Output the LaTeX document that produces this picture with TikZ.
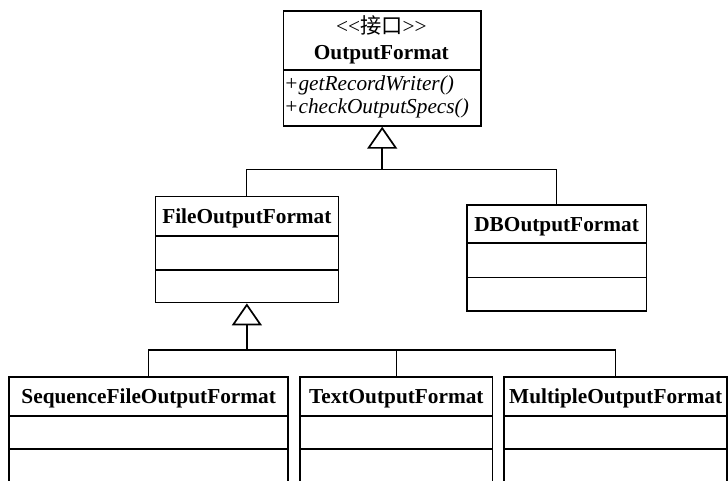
\documentclass[tikz,border=0pt]{standalone}
\usepackage{fontspec}
\setmainfont{Liberation Serif}
\newfontfamily\cjkfont{Noto Sans CJK SC}
\usetikzlibrary{arrows.meta}
\newcommand\umlsize{\fontsize{21.3pt}{25pt}\selectfont}
\tikzset{
  comp/.style={draw, line width=1.7pt, rectangle, inner sep=0pt, anchor=north west, minimum width=#1},
  title/.style={comp=#1, font=\umlsize\bfseries, text height=14.1pt, text depth=0pt},
  txt/.style={inner sep=0pt, font=\umlsize},
  link/.style={line width=1.1pt},
  stem/.style={line width=1.8pt, -{Triangle[open, length=22pt, width=30pt, line width=1.7pt]}}
}
\begin{document}
\begin{tikzpicture}[x=1pt,y=-1pt]
\useasboundingbox (0,0) rectangle (728,480);
\clip (0,0) rectangle (728,480);
% OutputFormat
\node[comp=197.3pt, minimum height=59pt] (ofT) at (282.7,10) {};
\node[comp=197.3pt, minimum height=56pt] (ofM) at (282.7,69) {};
\node[txt, anchor=base] (ofS) at (381.35,33) {<\kern0pt<{\cjkfont 接口}>\kern0pt>};
\node[txt, font=\umlsize\bfseries, anchor=base] (ofN) at (381.35,59) {OutputFormat};
\node[txt, font=\umlsize\itshape, anchor=base west] (op1) at (284,90) {+getRecordWriter()};
\node[txt, font=\umlsize\itshape, anchor=base west] (op2) at (284,113.3) {+checkOutputSpecs()};
% FileOutputFormat
\node[title=183pt, minimum height=39.3pt] (fofT) at (154.5,195.7) {FileOutputFormat};
\node[comp=183pt, minimum height=34pt] (fofA) at (154.5,235) {};
\node[comp=183pt, minimum height=32.7pt] (fofM) at (154.5,269) {};
% DBOutputFormat
\node[title=179.5pt, minimum height=38.3pt] (dbT) at (466,204) {DBOutputFormat};
\node[comp=179.5pt, minimum height=34.4pt] (dbA) at (466,242.3) {};
\node[comp=179.5pt, minimum height=33.3pt] (dbM) at (466,276.7) {};
% SequenceFileOutputFormat
\node[title=279pt, minimum height=39pt] (seqT) at (8.3,376) {SequenceFileOutputFormat};
\node[comp=279pt, minimum height=33.3pt] (seqA) at (8.3,415) {};
\node[comp=279pt, minimum height=50pt] (seqM) at (8.3,448.3) {};
% TextOutputFormat
\node[title=192.4pt, minimum height=39pt] (txtT) at (299.3,376) {TextOutputFormat};
\node[comp=192.4pt, minimum height=33.3pt] (txtA) at (299.3,415) {};
\node[comp=192.4pt, minimum height=50pt] (txtM) at (299.3,448.3) {};
% MultipleOutputFormat
\node[title=223pt, minimum height=39pt] (mulT) at (503.3,376) {MultipleOutputFormat};
\node[comp=223pt, minimum height=33.3pt] (mulA) at (503.3,415) {};
\node[comp=223pt, minimum height=50pt] (mulM) at (503.3,448.3) {};
% connectors
\path (ofM.south) ++(0,43) coordinate (j1);
\draw[link] (fofT.north) |- (j1) -| (dbT.north);
\draw[stem] (j1) -- (ofM.south);
\path (fofM.south) ++(0,46.6) coordinate (j2);
\draw[link] (seqT.north) |- (j2) -| (mulT.north);
\draw[link] (txtT.north) -- (txtT.north |- j2);
\draw[stem] (j2) -- (fofM.south);
\end{tikzpicture}
\end{document}
